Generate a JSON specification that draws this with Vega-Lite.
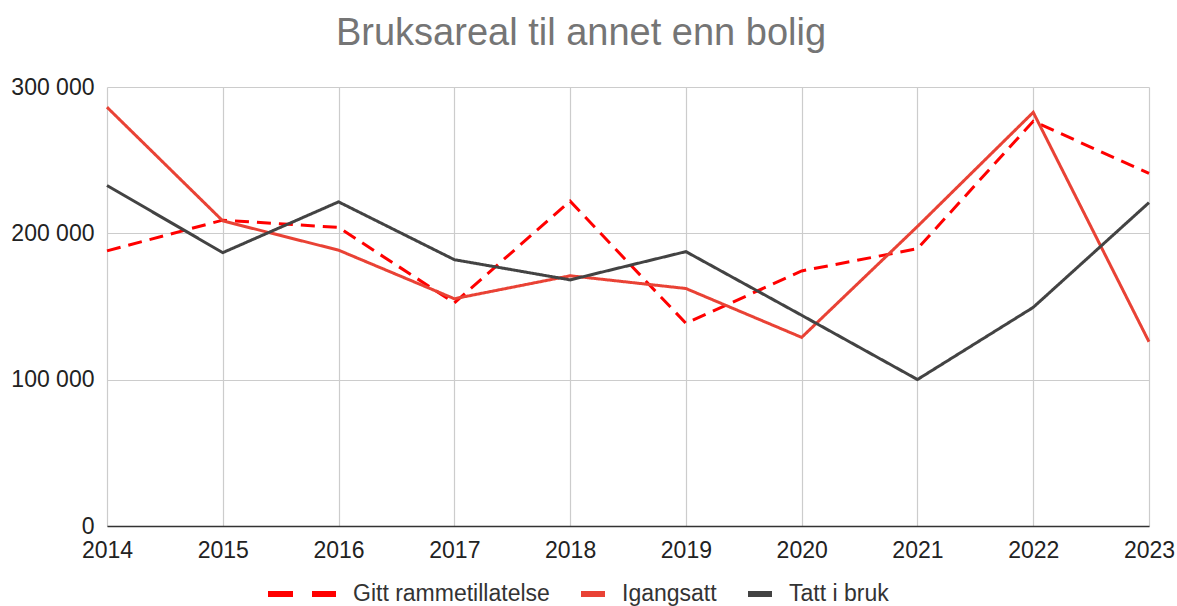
{
  "$schema": "https://vega.github.io/schema/vega-lite/v6.json",
  "width": 1042,
  "height": 439,
  "autosize": {"type": "none"},
  "padding": {"left": 107, "top": 87, "right": 28, "bottom": 80},
  "title": {
    "text": "Bruksareal til annet enn bolig",
    "fontSize": 38,
    "font": "Liberation Sans",
    "fontWeight": "normal",
    "color": "#757575",
    "anchor": "middle",
    "dx": -47,
    "offset": 23
  },
  "data": {
    "values": [
      {"year": "2014", "serie": "Gitt rammetillatelse", "value": 188000},
      {"year": "2015", "serie": "Gitt rammetillatelse", "value": 209000},
      {"year": "2016", "serie": "Gitt rammetillatelse", "value": 204000},
      {"year": "2017", "serie": "Gitt rammetillatelse", "value": 152500},
      {"year": "2018", "serie": "Gitt rammetillatelse", "value": 222000},
      {"year": "2019", "serie": "Gitt rammetillatelse", "value": 138500},
      {"year": "2020", "serie": "Gitt rammetillatelse", "value": 174300},
      {"year": "2021", "serie": "Gitt rammetillatelse", "value": 189500},
      {"year": "2022", "serie": "Gitt rammetillatelse", "value": 276600},
      {"year": "2023", "serie": "Gitt rammetillatelse", "value": 241000},
      {"year": "2014", "serie": "Igangsatt", "value": 286200},
      {"year": "2015", "serie": "Igangsatt", "value": 208500},
      {"year": "2016", "serie": "Igangsatt", "value": 188500},
      {"year": "2017", "serie": "Igangsatt", "value": 155300},
      {"year": "2018", "serie": "Igangsatt", "value": 171000},
      {"year": "2019", "serie": "Igangsatt", "value": 162300},
      {"year": "2020", "serie": "Igangsatt", "value": 128900},
      {"year": "2021", "serie": "Igangsatt", "value": 204700},
      {"year": "2022", "serie": "Igangsatt", "value": 282700},
      {"year": "2023", "serie": "Igangsatt", "value": 125900},
      {"year": "2014", "serie": "Tatt i bruk", "value": 232700},
      {"year": "2015", "serie": "Tatt i bruk", "value": 186800},
      {"year": "2016", "serie": "Tatt i bruk", "value": 221500},
      {"year": "2017", "serie": "Tatt i bruk", "value": 182000},
      {"year": "2018", "serie": "Tatt i bruk", "value": 168200},
      {"year": "2019", "serie": "Tatt i bruk", "value": 187500},
      {"year": "2020", "serie": "Tatt i bruk", "value": 144000},
      {"year": "2021", "serie": "Tatt i bruk", "value": 100100},
      {"year": "2022", "serie": "Tatt i bruk", "value": 149400},
      {"year": "2023", "serie": "Tatt i bruk", "value": 221000}
    ]
  },
  "mark": {"type": "line", "strokeWidth": 3},
  "encoding": {
    "x": {
      "field": "year",
      "type": "ordinal",
      "scale": {"type": "point", "padding": 0},
      "axis": {
        "title": null,
        "labelAngle": 0,
        "labelFontSize": 23,
        "labelFont": "Liberation Sans",
        "labelColor": "#222222",
        "labelPadding": 13,
        "ticks": false,
        "grid": true,
        "gridColor": "#cccccc",
        "gridWidth": 1.2,
        "domainColor": "#333333",
        "domainWidth": 1.5
      }
    },
    "y": {
      "field": "value",
      "type": "quantitative",
      "scale": {"domain": [0, 300000], "nice": false},
      "axis": {
        "title": null,
        "values": [0, 100000, 200000, 300000],
        "labelExpr": "replace(format(datum.value, ','), ',', ' ')",
        "labelFontSize": 23,
        "labelFont": "Liberation Sans",
        "labelColor": "#222222",
        "labelPadding": 13,
        "domain": false,
        "ticks": false,
        "grid": true,
        "gridColor": "#cccccc",
        "gridWidth": 1.2
      }
    },
    "color": {
      "field": "serie",
      "type": "nominal",
      "scale": {
        "domain": ["Gitt rammetillatelse", "Igangsatt", "Tatt i bruk"],
        "range": ["#ff0000", "#e94235", "#434343"]
      },
      "legend": {
        "title": null,
        "orient": "none",
        "legendX": 158,
        "legendY": 492,
        "direction": "horizontal",
        "symbolType": "stroke",
        "symbolSize": 576,
        "symbolStrokeWidth": 6,
        "symbolDash": [25, 19],
        "clipHeight": 30,
        "labelFontSize": 23,
        "labelFont": "Liberation Sans",
        "labelColor": "#333333",
        "labelOffset": 14,
        "columnPadding": 28,
        "labelLimit": 400,
        "encode": {
          "symbols": {
            "update": {
              "x": {"signal": "datum.value === 'Gitt rammetillatelse' ? 37 : 15"},
              "size": {"signal": "datum.value === 'Gitt rammetillatelse' ? 4624 : 576"},
              "strokeDash": {"signal": "datum.value === 'Gitt rammetillatelse' ? [25, 19] : [1, 0]"}
            }
          },
          "labels": {
            "update": {
              "x": {"signal": "datum.value === 'Gitt rammetillatelse' ? 88 : 44"}
            }
          }
        }
      }
    },
    "strokeDash": {
      "condition": {"test": "datum.serie === 'Gitt rammetillatelse'", "value": [14, 8]},
      "value": [1, 0]
    }
  },
  "config": {"view": {"stroke": null}}
}
